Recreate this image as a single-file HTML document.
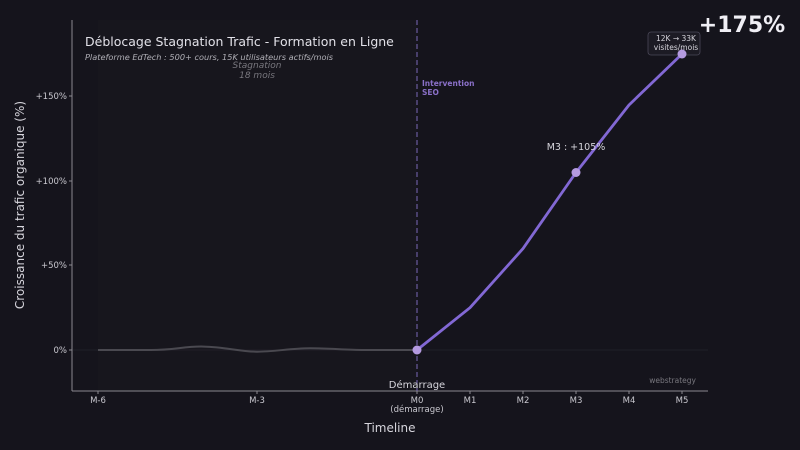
<!DOCTYPE html>
<html><head><meta charset="utf-8"><style>
html,body{margin:0;padding:0;background:#15141c;}
svg{display:block;font-family:"DejaVu Sans","Liberation Sans",sans-serif;}
</style></head><body>
<svg width="800" height="450" viewBox="0 0 800 450">
<rect width="800" height="450" fill="#15141c"/>
<rect x="98" y="20" width="319" height="371" fill="#17161d"/>
<line x1="72" y1="350" x2="708" y2="350" stroke="#24232c" stroke-width="0.8"/>
<line x1="72" y1="20" x2="72" y2="391" stroke="#8a8990" stroke-width="1"/>
<line x1="72" y1="391" x2="708" y2="391" stroke="#8a8990" stroke-width="1"/>
<g fill="#c9c8cf" font-size="8.5" text-anchor="end">
<line x1="69" y1="96" x2="72" y2="96" stroke="#8a8990"/><text x="67" y="99">+150%</text>
<line x1="69" y1="181" x2="72" y2="181" stroke="#8a8990"/><text x="67" y="184">+100%</text>
<line x1="69" y1="265" x2="72" y2="265" stroke="#8a8990"/><text x="67" y="268">+50%</text>
<line x1="69" y1="350" x2="72" y2="350" stroke="#8a8990"/><text x="67" y="353">0%</text>
</g>
<g fill="#c9c8cf" font-size="8.5" text-anchor="middle" stroke-width="1">
<g stroke="#8a8990"><line x1="98" y1="391" x2="98" y2="394"/><line x1="257" y1="391" x2="257" y2="394"/><line x1="417" y1="391" x2="417" y2="394"/><line x1="470" y1="391" x2="470" y2="394"/><line x1="523" y1="391" x2="523" y2="394"/><line x1="576" y1="391" x2="576" y2="394"/><line x1="629" y1="391" x2="629" y2="394"/><line x1="682" y1="391" x2="682" y2="394"/></g>
<text x="98" y="403">M-6</text><text x="257" y="403">M-3</text>
<text x="417" y="403">M0</text><text x="417" y="412">(démarrage)</text>
<text x="470" y="403">M1</text><text x="523" y="403">M2</text><text x="576" y="403">M3</text><text x="629" y="403">M4</text><text x="682" y="403">M5</text>
</g>
<text x="390" y="432" fill="#d6d5dc" font-size="12" text-anchor="middle">Timeline</text>
<text transform="translate(24,205) rotate(-90)" fill="#d6d5dc" font-size="12" text-anchor="middle">Croissance du trafic organique (%)</text>
<line x1="417" y1="20" x2="417" y2="391" stroke="#7a68b8" stroke-width="1" stroke-dasharray="5,3"/>
<text x="422" y="86" fill="#8a70c8" font-size="7.5" font-weight="bold">Intervention</text>
<text x="422" y="95" fill="#8a70c8" font-size="7.5" font-weight="bold">SEO</text>
<text x="85" y="46" fill="#e2e1e8" font-size="12.5">Déblocage Stagnation Trafic - Formation en Ligne</text>
<text x="85" y="60" fill="#b0afb6" font-size="8.2" font-style="italic">Plateforme EdTech : 500+ cours, 15K utilisateurs actifs/mois</text>
<text x="257" y="68" fill="#78777e" font-size="9" font-style="italic" text-anchor="middle">Stagnation</text>
<text x="257" y="78" fill="#78777e" font-size="9" font-style="italic" text-anchor="middle">18 mois</text>
<path d="M98,350 L151,350 C175,350 185,346 204,346.6 C225,347 240,351.7 257,351.7 C275,351.7 290,348.3 310,348.3 C330,348.3 345,350 364,350 L417,350" fill="none" stroke="#4a4950" stroke-width="2"/>
<polyline points="417,350 470,307.7 523,248.6 576,172.5 629,105 682,54" fill="none" stroke="#8268d4" stroke-width="2.8" stroke-linejoin="round"/>
<circle cx="417" cy="350" r="4.5" fill="#b49ae0"/>
<circle cx="576" cy="172.5" r="4.5" fill="#b49ae0"/>
<text x="576" y="150" fill="#d6d5dc" font-size="9.5" text-anchor="middle">M3 : +105%</text>
<rect x="648" y="32" width="52" height="23" rx="3" fill="#1c1b24" stroke="#4a4858" stroke-width="0.8"/>
<text x="676" y="41" fill="#d6d5dc" font-size="7.5" text-anchor="middle">12K → 33K</text>
<text x="676" y="50" fill="#d6d5dc" font-size="7.5" text-anchor="middle">visites/mois</text>
<circle cx="682" cy="54" r="4.5" fill="#b49ae0"/>
<text x="742" y="32" fill="#f0eff5" font-size="22" font-weight="bold" text-anchor="middle">+175%</text>
<text x="417" y="388" fill="#d6d5dc" font-size="10" text-anchor="middle">Démarrage</text>
<text x="696" y="383" fill="#78777e" font-size="7.5" text-anchor="end">webstrategy</text>
</svg>
</body></html>
